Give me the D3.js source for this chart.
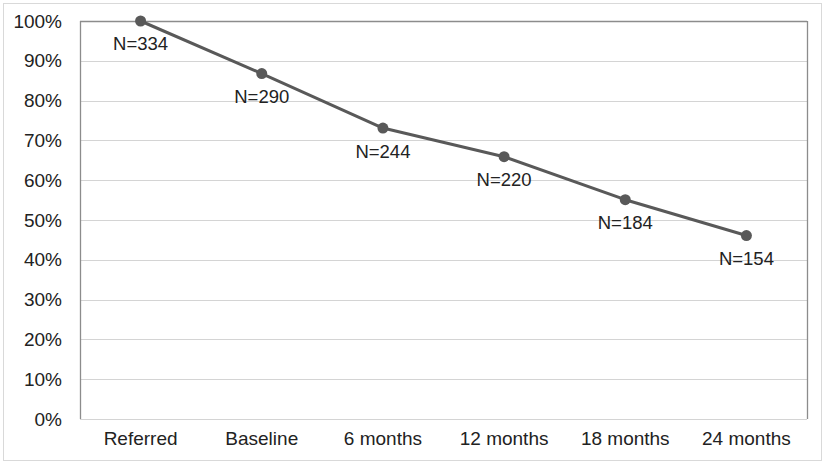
<!DOCTYPE html>
<html><head><meta charset="utf-8">
<script src="https://cdn.jsdelivr.net/npm/d3@7"></script>
<style>html,body{margin:0;padding:0;background:#fff;}svg{display:block;font-family:"Liberation Sans",Arial,sans-serif;}</style>
</head><body><svg id="c" width="825" height="465"></svg>
<script>
const categories = ["Referred","Baseline","6 months","12 months","18 months","24 months"];
const percentValues = [100, 86.8, 73.1, 65.9, 55.1, 46.1];
const countLabels = ["N=334","N=290","N=244","N=220","N=184","N=154"];
const yTicks = [0,10,20,30,40,50,60,70,80,90,100];

const svg = d3.select("#c");
const W = 825, H = 465;
const m = {left:80, right:18, top:21, bottom:46};
const x = d3.scaleBand().domain(categories).range([m.left, W - m.right]);
const y = d3.scaleLinear().domain([0,100]).range([H - m.bottom, m.top]);

// outer border
svg.append("rect").attr("x",3.5).attr("y",3.5).attr("width",818).attr("height",457)
  .attr("fill","#fff").attr("stroke","#d9d9d9").attr("stroke-width",1);

// gridlines
svg.append("g").selectAll("line").data(yTicks).join("line")
  .attr("x1",m.left).attr("x2",W-m.right)
  .attr("y1",d=>Math.round(y(d))+0.5).attr("y2",d=>Math.round(y(d))+0.5)
  .attr("stroke",d=>d===100?"#8c8c8c":"#d4d4d4").attr("stroke-width",d=>d===100?1.3:1.2);

// plot frame sides
svg.append("line").attr("x1",m.left+0.5).attr("x2",m.left+0.5).attr("y1",y(100)).attr("y2",y(0)).attr("stroke","#8c8c8c").attr("stroke-width",1.3);
svg.append("line").attr("x1",W-m.right+0.5).attr("x2",W-m.right+0.5).attr("y1",y(100)).attr("y2",y(0)).attr("stroke","#8c8c8c").attr("stroke-width",1.3);

// y axis labels
const yAxis = d3.axisLeft(y).tickValues(yTicks).tickFormat(d=>d+"%").tickSize(0).tickPadding(18);
const gy = svg.append("g").attr("transform",`translate(${m.left},0)`).call(yAxis);
gy.select(".domain").remove();
gy.selectAll("text").attr("font-size","19px").attr("fill","#222").attr("font-family","Liberation Sans, Arial, sans-serif");

// x axis labels
const xAxis = d3.axisBottom(x).tickSize(0).tickPadding(13);
const gx = svg.append("g").attr("transform",`translate(0,${y(0)})`).call(xAxis);
gx.select(".domain").remove();
gx.selectAll("text").attr("font-size","19px").attr("fill","#222").attr("font-family","Liberation Sans, Arial, sans-serif");

const pts = categories.map((c,i)=>({c, v:percentValues[i], lab:countLabels[i]}));
const cx = d => x(d.c) + x.bandwidth()/2;

svg.append("path").datum(pts)
  .attr("d", d3.line().x(cx).y(d=>y(d.v)))
  .attr("fill","none").attr("stroke","#595959").attr("stroke-width",3).attr("stroke-linejoin","round");

svg.append("g").selectAll("circle").data(pts).join("circle")
  .attr("cx",cx).attr("cy",d=>y(d.v)).attr("r",5.5).attr("fill","#595959");

svg.append("g").selectAll("text").data(pts).join("text")
  .attr("x",cx).attr("y",d=>y(d.v)+23).attr("dy","0.35em")
  .attr("text-anchor","middle").attr("font-size","18.5px").attr("fill","#222")
  .text(d=>d.lab);
</script></body></html>
